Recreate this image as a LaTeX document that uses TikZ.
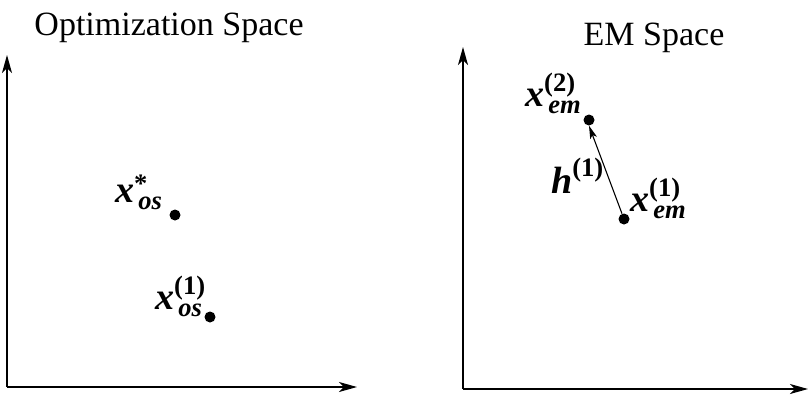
\documentclass[tikz,border=0pt]{standalone}
\usepackage{amsmath}
\usepackage{fontspec}
\setmainfont{Liberation Serif}
\usetikzlibrary{arrows.meta}
\newcommand{\bi}[1]{\textbf{\textit{#1}}}
\newcommand{\bu}[1]{\textbf{#1}}
\begin{document}
\begin{tikzpicture}[x=1pt,y=-1pt,
  axis/.style={line width=1.3pt,-{Stealth[length=18pt,width=10pt,inset=5pt]}},
  dot/.style={circle,fill=black,inner sep=0pt,minimum size=11pt},
  lab/.style={anchor=base west,inner sep=0pt,font=\fontsize{38}{42}\selectfont},
  ttl/.style={anchor=base,inner sep=0pt,font=\fontsize{34}{40}\selectfont},
  harrow/.style={line width=1.1pt,-{Stealth[length=13pt,width=7pt,inset=3pt]}}]
\useasboundingbox (0,0) rectangle (809,397);
% titles
\node[ttl] (t1) at (169,35) {Optimization Space};
\node[ttl] (t2) at (654,45) {EM Space};
% axes
\coordinate (o1) at (7,387);
\coordinate (xe1) at (357,387);
\coordinate (ye1) at (7,55);
\coordinate (o2) at (463,389);
\coordinate (xe2) at (808,389);
\coordinate (ye2) at (463,47);
\draw[axis] (o1) -- (xe1);
\draw[axis] (o1) -- (ye1);
\draw[axis] (o2) -- (xe2);
\draw[axis] (o2) -- (ye2);
% points
\node[dot] (xs) at (175,215) {};
\node[dot] (x1) at (210,317) {};
\node[dot] (e2) at (589,120) {};
\node[dot] (e1) at (624,219) {};
\draw[harrow] (e1) -- (e2.south);
% labels
\node[lab] (lxs) at (115,202) {$\bi{x}^{\bu{*}}_{\,\bi{os}}$};
\node[lab] (lx1) at (155,309) {$\bi{x}^{\bu{(1)}}_{\,\bi{os}}$};
\node[lab] (le2) at (525,106) {$\bi{x}^{\bu{(2)}}_{\,\bi{em}}$};
\node[lab] (lh) at (551,193) {$\bi{h}^{\bu{(1)}}$};
\node[lab] (le1) at (630,211) {$\bi{x}^{\bu{(1)}}_{\,\bi{em}}$};
\end{tikzpicture}
\end{document}
